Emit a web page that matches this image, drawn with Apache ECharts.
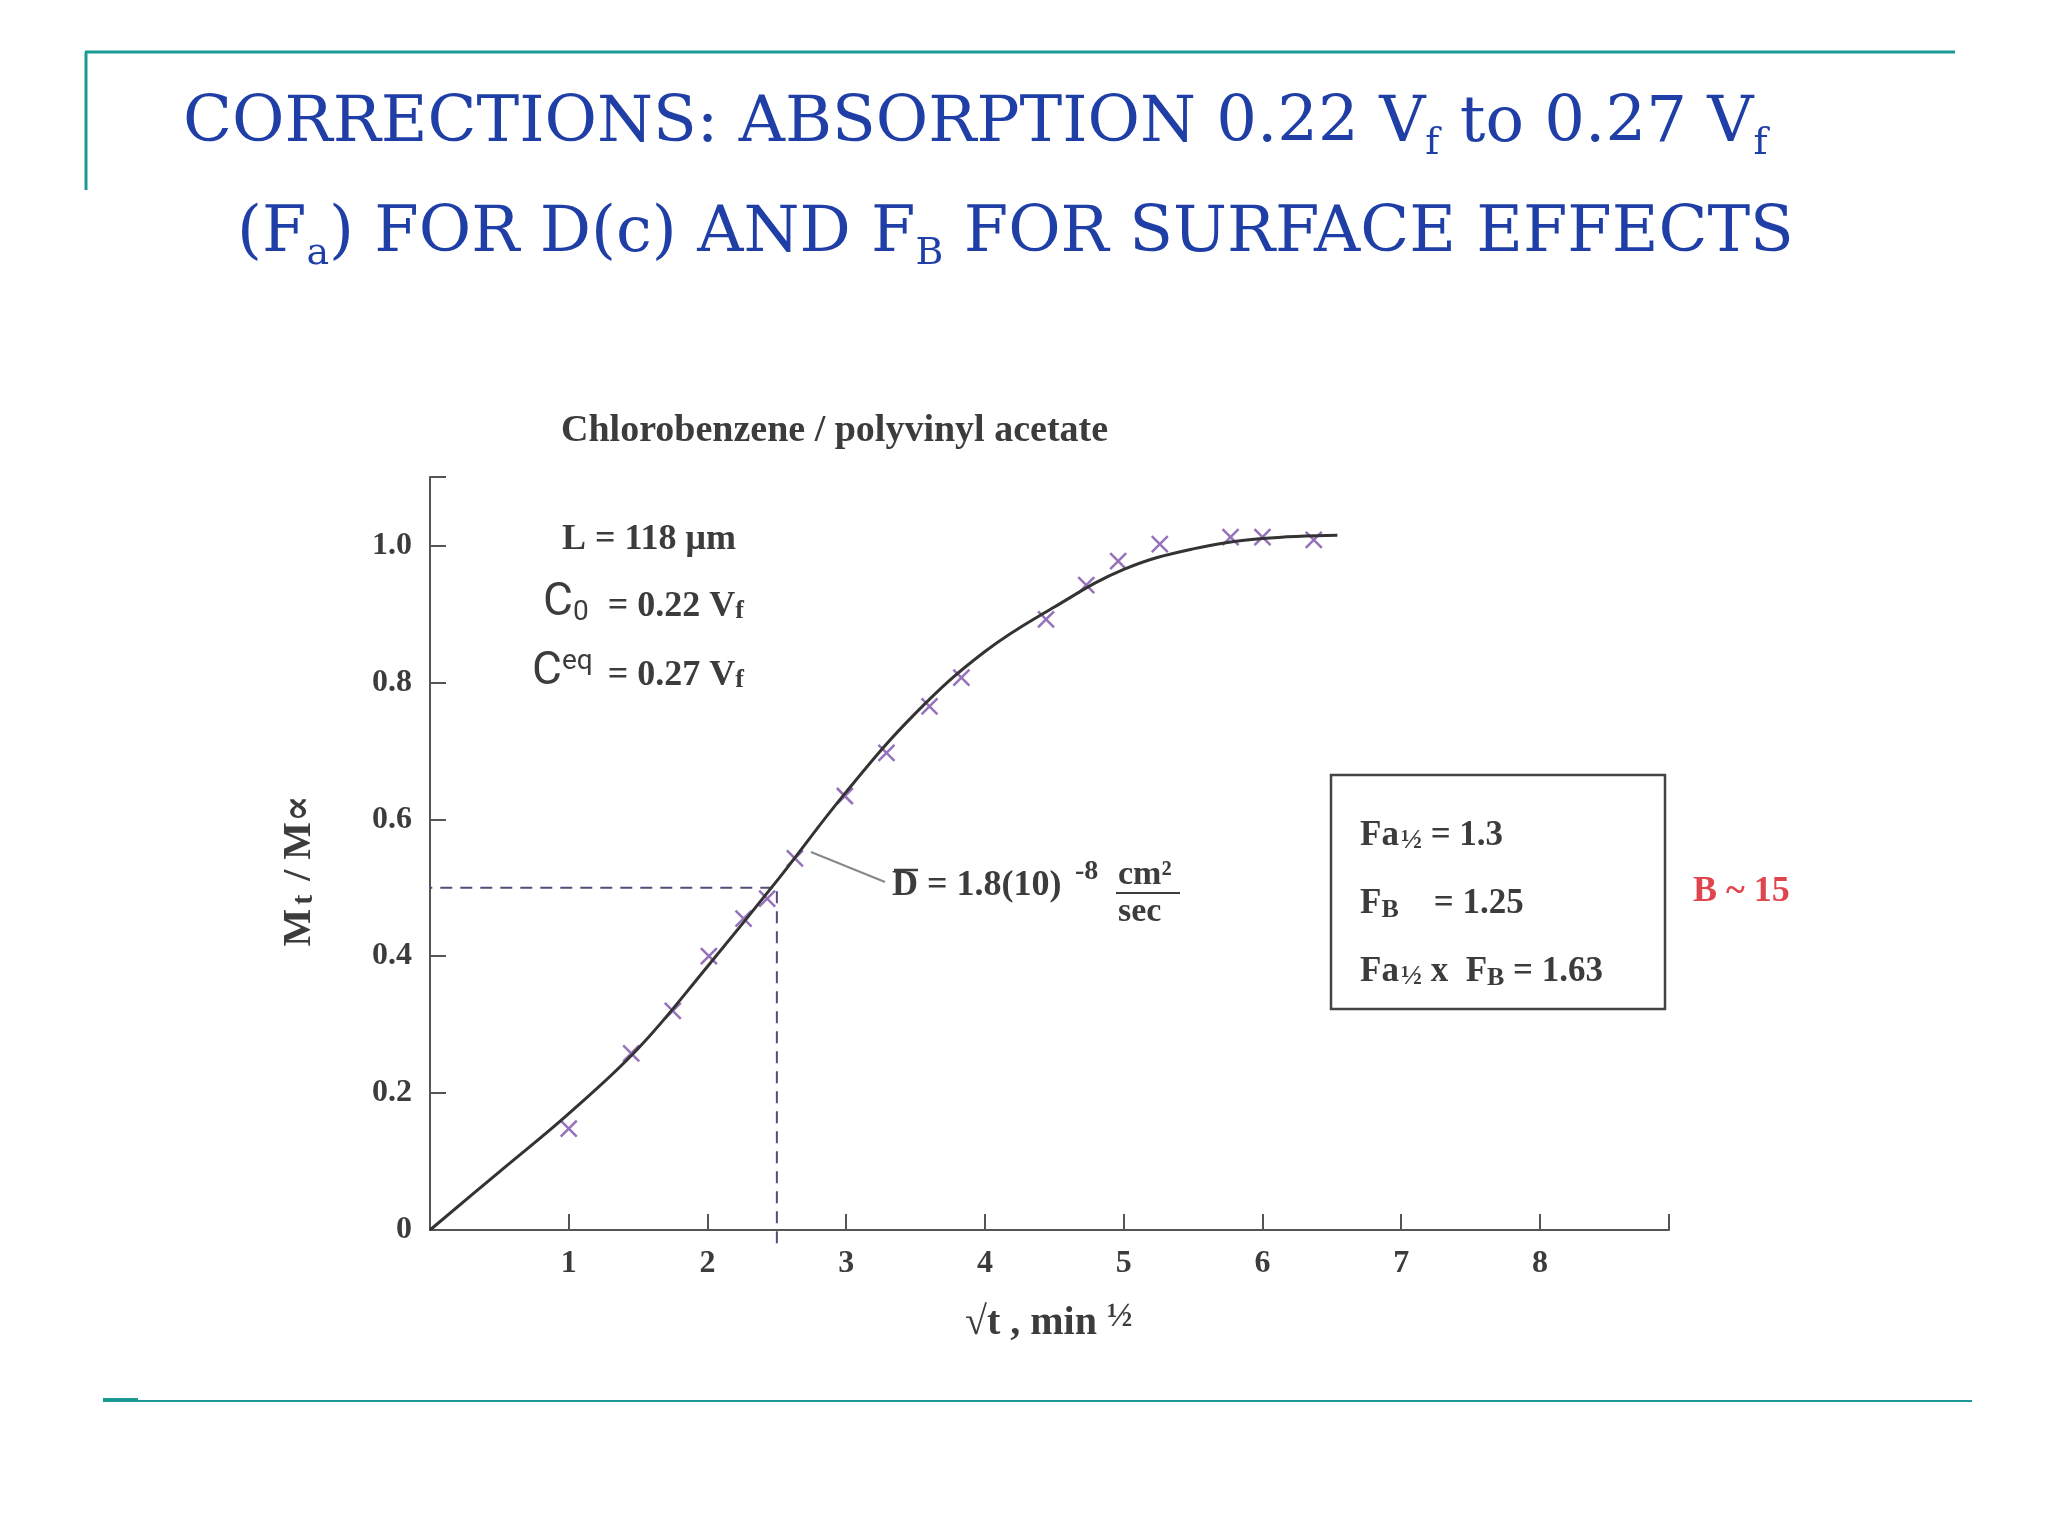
<!DOCTYPE html>
<html>
<head>
<meta charset="utf-8">
<script src="https://cdn.jsdelivr.net/npm/echarts@6/dist/echarts.min.js"></script>
<style>html,body{margin:0;background:#fff}#main{width:2048px;height:1536px}</style>
</head>
<body>
<div id="main"></div>
<script>
// measured points (sqrt t, Mt/Minf)
const pointX = [1.0, 1.45, 1.75, 2.01, 2.26, 2.43, 2.63, 2.99, 3.29, 3.60, 3.83, 4.44, 4.73, 4.96, 5.26, 5.77, 6.0, 6.37];
const pointY = [0.148, 0.258, 0.32, 0.40, 0.455, 0.484, 0.543, 0.634, 0.697, 0.765, 0.807, 0.892, 0.942, 0.977, 1.002, 1.012, 1.012, 1.008];
// fitted curve
const curveX = [0, 0.5, 1, 1.5, 2, 2.5, 3, 3.5, 4, 4.5, 5, 5.5, 6, 6.54];
const curveY = [0, 0.085, 0.17, 0.265, 0.385, 0.51, 0.64, 0.755, 0.845, 0.91, 0.965, 0.995, 1.01, 1.015];
// half-sorption guide
const guideX = [-0.07, 2.5, 2.5];
const guideY = [0.5, 0.5, -0.02];
const yTicks = [0, 0.2, 0.4, 0.6, 0.8, 1.0];
const xTicks = [1, 2, 3, 4, 5, 6, 7, 8];

const serif = "'Liberation Serif', 'DejaVu Serif', serif";
const titleFont = "'DejaVu Serif', serif";
const ink = '#3c3c3c';
const teal = '#1a9a92';
const blue = '#1f3fa6';

let chart = echarts.init(document.getElementById('main'));

const txt = (left, top, text, size, extra) => ({
  type: 'text', left: left, top: top,
  style: Object.assign({ text: text, font: 'bold ' + size + 'px ' + serif, fill: ink }, extra || {})
});

chart.setOption({
  animation: false,
  grid: { left: 430, right: 379, top: 477, bottom: 306 },
  xAxis: {
    type: 'value', min: 0, max: 8.93, interval: 1,
    axisLine: { lineStyle: { color: '#555', width: 2 } },
    axisTick: { inside: true, length: 16, lineStyle: { color: '#555', width: 2 } },
    splitLine: { show: false },
    axisLabel: {
      margin: 18, color: ink, fontFamily: serif, fontWeight: 'bold', fontSize: 32,
      formatter: (v) => (xTicks.includes(v) ? String(v) : '')
    }
  },
  yAxis: {
    type: 'value', min: 0, max: 1.1, interval: 0.2,
    axisLine: { show: true, lineStyle: { color: '#555', width: 2 } },
    axisTick: { show: true, inside: true, length: 16, lineStyle: { color: '#555', width: 2 } },
    splitLine: { show: false },
    axisLabel: {
      margin: 18, color: ink, fontFamily: serif, fontWeight: 'bold', fontSize: 32,
      formatter: (v) => {
        const t = yTicks.find((k) => Math.abs(k - v) < 1e-6);
        if (t === undefined) return '';
        return t === 0 ? '0' : t.toFixed(1);
      }
    }
  },
  series: [
    {
      type: 'line', showSymbol: false, clip: false, silent: true,
      lineStyle: { color: '#5a4a7a', type: [12, 8], width: 2 },
      data: guideX.map((x, i) => [x, guideY[i]])
    },
    {
      type: 'line', smooth: 0.4, showSymbol: false,
      lineStyle: { color: '#333', width: 3 },
      data: curveX.map((x, i) => [x, curveY[i]])
    },
    {
      type: 'scatter',
      symbol: 'path://M0,0L10,10M10,0L0,10', symbolSize: 16,
      itemStyle: { color: 'rgba(0,0,0,0)', borderColor: '#7b4fa8', borderWidth: 2.5 },
      data: pointX.map((x, i) => [x, pointY[i]])
    }
  ],
  graphic: [
    { type: 'line', shape: { x1: 85, y1: 52, x2: 1955, y2: 52 }, style: { stroke: teal, lineWidth: 3 } },
    { type: 'line', shape: { x1: 86, y1: 52, x2: 86, y2: 190 }, style: { stroke: teal, lineWidth: 3 } },
    { type: 'line', shape: { x1: 103, y1: 1401, x2: 1972, y2: 1401 }, style: { stroke: teal, lineWidth: 2 } },
    { type: 'line', shape: { x1: 103, y1: 1400, x2: 138, y2: 1400 }, style: { stroke: teal, lineWidth: 4 } },
    {
      type: 'text', left: 183, top: 92,
      style: {
        text: 'CORRECTIONS: ABSORPTION 0.22 V{s|f} to 0.27 V{s|f}',
        font: '64px ' + titleFont, fill: blue,
        rich: { s: { fontSize: 38, fontFamily: titleFont, fill: blue, padding: [40, 0, 0, 0] } }
      }
    },
    {
      type: 'text', left: 237, top: 202,
      style: {
        text: '(F{s|a}) FOR D(c) AND F{s|B} FOR SURFACE EFFECTS',
        font: '64px ' + titleFont, fill: blue,
        rich: { s: { fontSize: 38, fontFamily: titleFont, fill: blue, padding: [40, 0, 0, 0] } }
      }
    },
    txt(561, 412, 'Chlorobenzene / polyvinyl acetate', 38),
    txt(562, 522, 'L = 118 μm', 36),
    {
      type: 'text', left: 543, top: 580,
      style: {
        text: '{c|C}{s|0}{n| = 0.22 V}{f|f}', fill: ink,
        rich: {
          c: { font: '46px Roboto, sans-serif', fill: ink },
          s: { font: '28px Roboto, sans-serif', fill: ink, padding: [20, 10, 0, 0] },
          n: { font: 'bold 36px ' + serif, fill: ink, padding: [8, 0, 0, 0] },
          f: { font: 'bold 26px ' + serif, fill: ink, padding: [16, 0, 0, 0] }
        }
      }
    },
    {
      type: 'text', left: 532, top: 648,
      style: {
        text: '{c|C}{s|eq}{n| = 0.27 V}{f|f}', fill: ink,
        rich: {
          c: { font: '46px Roboto, sans-serif', fill: ink },
          s: { font: '28px Roboto, sans-serif', fill: ink, padding: [0, 6, 20, 0] },
          n: { font: 'bold 36px ' + serif, fill: ink, padding: [8, 0, 0, 0] },
          f: { font: 'bold 26px ' + serif, fill: ink, padding: [16, 0, 0, 0] }
        }
      }
    },
    { type: 'line', shape: { x1: 811, y1: 852, x2: 885, y2: 882 }, style: { stroke: '#888', lineWidth: 2 } },
    txt(892, 868, 'D = 1.8(10)', 36),
    { type: 'line', shape: { x1: 894, y1: 870, x2: 918, y2: 870 }, style: { stroke: ink, lineWidth: 2.5 } },
    txt(1075, 858, '-8', 28),
    txt(1118, 858, 'cm²', 34),
    { type: 'line', shape: { x1: 1116, y1: 893, x2: 1180, y2: 893 }, style: { stroke: ink, lineWidth: 2 } },
    txt(1118, 895, 'sec', 34),
    { type: 'rect', shape: { x: 1331, y: 775, width: 334, height: 234 }, style: { fill: 'none', stroke: '#444', lineWidth: 2.5 } },
    {
      type: 'text', left: 1360, top: 802,
      style: {
        text: '{a|Fa}{h|½}{a| = 1.3}\n{a|F}{b|B}{a|    = 1.25}\n{a|Fa}{h|½}{a| x  F}{b|B}{a| = 1.63}',
        lineHeight: 68,
        rich: {
          a: { font: 'bold 35px ' + serif, fill: ink, lineHeight: 68 },
          h: { font: 'bold 28px ' + serif, fill: ink, padding: [10, 0, 0, 2], lineHeight: 68 },
          b: { font: 'bold 26px ' + serif, fill: ink, padding: [12, 0, 0, 0], lineHeight: 68 }
        }
      }
    },
    txt(1693, 874, 'B ~ 15', 36, { fill: '#e0444c' }),
    {
      type: 'text', left: 280, top: 795, rotation: Math.PI / 2,
      style: {
        text: '{a|M}{b|t}{a| / M∝}',
        rich: {
          a: { font: 'bold 40px ' + serif, fill: ink },
          b: { font: 'bold 30px ' + serif, fill: ink, padding: [8, 4, 0, 4] }
        }
      }
    },
    {
      type: 'text', left: 965, top: 1300,
      style: {
        text: '{a|√t , min }{h|½}',
        rich: {
          a: { font: 'bold 40px ' + serif, fill: ink },
          h: { font: 'bold 34px ' + serif, fill: ink, padding: [0, 0, 14, 0] }
        }
      }
    }
  ]
});
</script>
</body>
</html>
